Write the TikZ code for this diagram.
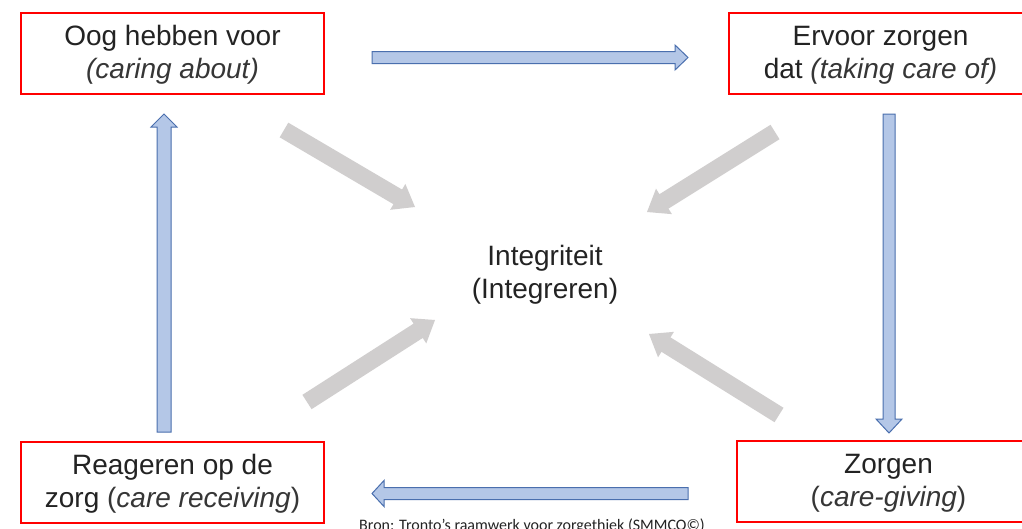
\documentclass[tikz,border=0pt]{standalone}
\usepackage{fontspec}
\setmainfont{Liberation Sans}
\newfontfamily\captionfont{Carlito}
\usetikzlibrary{calc}

\definecolor{boxred}{HTML}{FF0000}
\definecolor{txt}{HTML}{232323}
\definecolor{txtit}{HTML}{363636}
\definecolor{bluefill}{HTML}{B4C7E7}
\definecolor{blueline}{HTML}{4A6FAE}
\definecolor{greyfill}{HTML}{D0CECE}

% Block arrow polygon: #1 style, #2 tail, #3 tip,
% #4 half shaft width, #5 half head width, #6 head length
\newcommand\blockarrow[6]{%
  \coordinate (bh) at ($(#3)!#6!(#2)$);
  \path[#1] ($(#2)!#4!90:(#3)$) -- ($(bh)!#4!90:(#3)$) -- ($(bh)!#5!90:(#3)$)
    -- (#3) -- ($(bh)!#5!-90:(#3)$) -- ($(bh)!#4!-90:(#3)$)
    -- ($(#2)!#4!-90:(#3)$) -- cycle;
}

\begin{document}
\begin{tikzpicture}[x=1pt,y=-1pt,
  stagebox/.style={draw=boxred, line width=1.6pt, minimum width=303pt,
    minimum height=81pt, align=center, text=txt,
    font=\fontsize{28}{33}\selectfont, inner sep=0pt},
  flowarrow/.style={fill=bluefill, draw=blueline, line width=1pt, line join=miter},
  inarrow/.style={fill=greyfill}]
\useasboundingbox (0,0) rectangle (1022,528);
\clip (0,0) rectangle (1022,528);
\fill[white] (0,0) rectangle (1022,528);

% the four phases
\node[stagebox] (oog) at (172.5,53.5)
  {\rule{0pt}{23pt}Oog hebben voor\\\textcolor{txtit}{\itshape(caring about)}};
\node[stagebox] (ervoor) at (880.5,53.5)
  {\rule{0pt}{23pt}Ervoor zorgen\\dat \textcolor{txtit}{\itshape(taking care of)}};
\node[stagebox] (reageren) at (172.5,482.5)
  {\rule{0pt}{23pt}Reageren op de\\zorg \textcolor{txtit}{(\textit{care receiving})}};
\node[stagebox] (zorgen) at (888.5,481.5)
  {\rule{0pt}{23pt}Zorgen\\\textcolor{txtit}{(\textit{care-giving})}};

% centre
\node[align=center, text=txt, font=\fontsize{28}{33}\selectfont] (integ) at (545,275)
  {Integriteit\\(Integreren)};

% source line
\node[anchor=base, text=txt, font=\captionfont\fontsize{16}{18}\selectfont, inner sep=0pt]
  (bron) at (532,530) {Bron: Tronto’s raamwerk voor zorgethiek (SMMCO©)};

% end points of the cycle arrows
\coordinate (c1a) at (372,57.5);  \coordinate (c1b) at (688,57.5);
\coordinate (c2a) at (889,114);   \coordinate (c2b) at (889,433);
\coordinate (c3a) at (688,493.5); \coordinate (c3b) at (372,493.5);
\coordinate (c4a) at (164,432);   \coordinate (c4b) at (164,114);

\blockarrow{flowarrow}{c1a}{c1b}{6pt}{12.5pt}{13pt}
\blockarrow{flowarrow}{c2a}{c2b}{6pt}{13pt}{14pt}
\blockarrow{flowarrow}{c3a}{c3b}{6pt}{13pt}{12pt}
\blockarrow{flowarrow}{c4a}{c4b}{7pt}{13pt}{13pt}

% arrows into the centre
\coordinate (g1a) at (284,130); \coordinate (g1b) at (415,207);
\coordinate (g2a) at (775,132); \coordinate (g2b) at (647,212);
\coordinate (g3a) at (307,402); \coordinate (g3b) at (435,320);
\coordinate (g4a) at (779,415); \coordinate (g4b) at (649,334);

\blockarrow{inarrow}{g1a}{g1b}{8.5pt}{15pt}{20pt}
\blockarrow{inarrow}{g2a}{g2b}{8.5pt}{15pt}{20pt}
\blockarrow{inarrow}{g3a}{g3b}{8.5pt}{15pt}{20pt}
\blockarrow{inarrow}{g4a}{g4b}{8.5pt}{15pt}{20pt}
\end{tikzpicture}
\end{document}
